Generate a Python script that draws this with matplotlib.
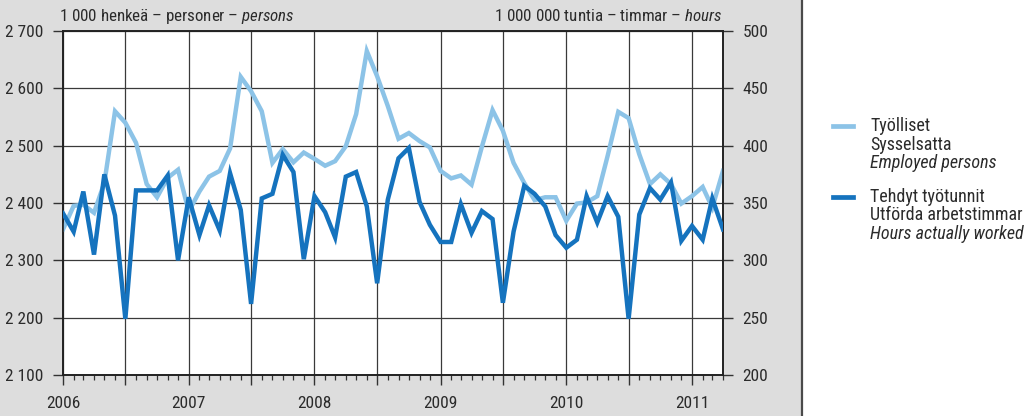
import matplotlib
matplotlib.use("Agg")
import matplotlib.pyplot as plt
import matplotlib.dates as mdates
import matplotlib.font_manager as fm
from matplotlib.lines import Line2D
from matplotlib.patches import Rectangle
from matplotlib.ticker import FuncFormatter, MultipleLocator
import pandas as pd

# monthly series, Jan 2006 - Apr 2011
months = pd.date_range("2006-01-01", periods=64, freq="MS")

# employed persons, 1000 persons (left axis)
employed = [
    2354, 2395, 2397, 2383, 2435, 2560, 2540, 2505, 2433, 2410, 2444, 2458,
    2385, 2420, 2446, 2456, 2495, 2620, 2595, 2560, 2470, 2494, 2471, 2488,
    2477, 2465, 2473, 2499, 2555, 2665, 2621, 2569, 2512, 2522, 2508, 2497,
    2456, 2443, 2448, 2432, 2498, 2562, 2526, 2470, 2435, 2405, 2410, 2410,
    2369, 2399, 2401, 2412, 2482, 2559, 2548, 2485, 2433, 2450, 2433, 2399,
    2412, 2428, 2392, 2456,
]

# hours actually worked, million hours (right axis)
hours = [
    341, 325, 360, 305, 375, 339, 249, 361, 361, 361, 374, 300,
    355, 322, 348, 326, 376, 344, 262, 354, 358, 392, 377, 301,
    356, 342, 320, 373, 377, 347, 280, 353, 389, 398, 351, 331,
    316, 316, 349, 324, 343, 336, 263, 325, 365, 358, 347, 322,
    311, 318, 356, 333, 356, 338, 249, 340, 363, 353, 368, 317,
    330, 318, 354, 327,
]

left_title = "1 000 henkeä – personer – "
left_title_it = "persons"
right_title = "1 000 000 tuntia – timmar – "
right_title_it = "hours"
legend_employed = ["Työlliset", "Sysselsatta", "Employed persons"]
legend_hours = ["Tehdyt työtunnit", "Utförda arbetstimmar", "Hours actually worked"]

LIGHT = "#8cc3e7"
DARK = "#1573be"
TXT = "#2b2b2b"

# pick a narrow sans face
installed = {f.name for f in fm.fontManager.ttflist}
family = "DejaVu Sans"
for cand in ["Liberation Sans Narrow", "Roboto Condensed", "Archivo Narrow",
             "PT Sans Narrow", "Sofia Sans Semi Condensed", "Fira Sans Condensed"]:
    if cand in installed:
        family = cand
        break
plt.rcParams["font.family"] = [family, "DejaVu Sans"]
plt.rcParams["mathtext.fontset"] = "custom"
plt.rcParams["mathtext.rm"] = family
plt.rcParams["mathtext.it"] = family + ":italic"

W, H = 1032, 416
fig = plt.figure(figsize=(W / 100, H / 100), dpi=100)
fig.patch.set_facecolor("white")

# grey panel behind the chart
fig.patches.append(Rectangle((0, 0), 802 / W, 1, transform=fig.transFigure,
                             facecolor="#dddddd", edgecolor="none", zorder=-10))
fig.add_artist(Line2D([802 / W, 802 / W], [0, 1], transform=fig.transFigure,
                      color="#4a4a4a", lw=1.6))

ax = fig.add_axes([63 / W, 1 - 375 / H, 660 / W, 344 / H])
ax.set_facecolor("white")
ax2 = ax.twinx()

ax.plot(months, employed, color=LIGHT, lw=3.2, solid_joinstyle="miter", zorder=3)
ax2.plot(months, hours, color=DARK, lw=3.2, solid_joinstyle="miter", zorder=3)

ax.set_xlim(months[0], months[-1])
ax.set_ylim(2100, 2700)
ax2.set_ylim(200, 500)
ax.yaxis.set_major_locator(MultipleLocator(100))
ax2.yaxis.set_major_locator(MultipleLocator(50))

fmt = FuncFormatter(lambda v, _: f"{int(round(v)):,}".replace(",", " "))
ax.yaxis.set_major_formatter(fmt)
ax2.yaxis.set_major_formatter(fmt)

ax.xaxis.set_major_locator(mdates.MonthLocator(bymonth=[1, 7]))
ax.xaxis.set_minor_locator(mdates.MonthLocator())
ax.xaxis.set_major_formatter(
    FuncFormatter(lambda v, _: str(mdates.num2date(v).year) if mdates.num2date(v).month == 1 else ""))

ax.grid(True, which="major", color="#3a3a3a", lw=0.9)
ax.set_axisbelow(True)

for a in (ax, ax2):
    for s in a.spines.values():
        s.set_color("#222222")
        s.set_linewidth(1.2)

ax.tick_params(axis="x", which="major", direction="out", length=7, width=1.0,
               color="#333333", pad=8, labelsize=12.5, labelcolor=TXT)
ax.tick_params(axis="x", which="minor", direction="out", length=3.5, width=0.9,
               color="#333333")
ax.tick_params(axis="y", direction="out", length=7, width=1.0, color="#333333",
               pad=7, labelsize=12.5, labelcolor=TXT)
ax2.tick_params(axis="y", direction="out", length=7, width=1.0, color="#333333",
                pad=7, labelsize=12.5, labelcolor=TXT)

# unit captions above the axes
fig.text(59 / W, 1 - 16 / H, left_title + r"$\mathit{" + left_title_it + "}$",
         ha="left", va="center", fontsize=12.2, color=TXT)
fig.text(722 / W, 1 - 16 / H, right_title + r"$\mathit{" + right_title_it + "}$",
         ha="right", va="center", fontsize=12.2, color=TXT)

# legend
for key_y, color, lines in ((126, LIGHT, legend_employed), (197, DARK, legend_hours)):
    fig.add_artist(Line2D([833 / W, 853 / W], [1 - key_y / H] * 2,
                          transform=fig.transFigure, color=color, lw=3.4))
    for k, line in enumerate(lines):
        fig.text(870 / W, 1 - (key_y + 18.5 * k) / H, line, ha="left", va="center",
                 fontsize=13, color=TXT, style="italic" if k == 2 else "normal")

fig.savefig("out.png", dpi=100, facecolor=fig.get_facecolor())
